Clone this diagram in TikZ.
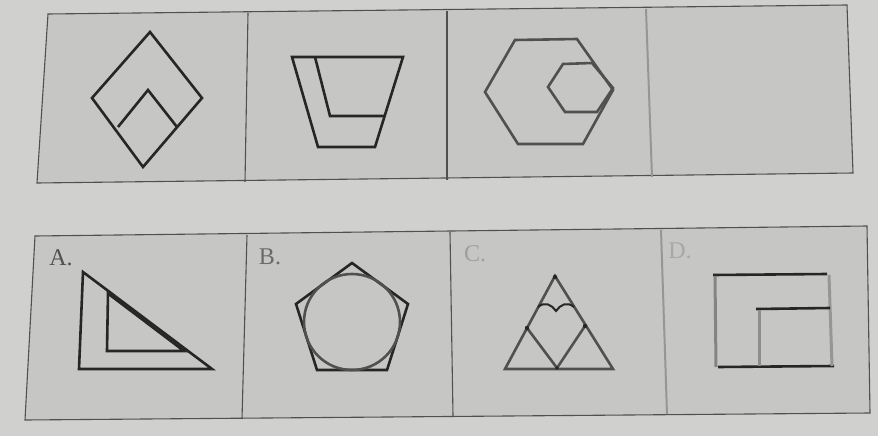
\documentclass[tikz,border=0pt]{standalone}
\usepackage{fontspec}
\setmainfont{Liberation Serif}
\definecolor{bgc}{HTML}{D0D0CE}
\definecolor{panelc}{HTML}{C6C6C4}
\definecolor{framec}{HTML}{505050}
\definecolor{inkc}{HTML}{262626}
\definecolor{softc}{HTML}{505050}
\begin{document}
\begin{tikzpicture}[x=1pt,y=-1pt,
  frame/.style={draw=framec,line width=1.1pt},
  ink/.style={draw=inkc,line width=2.6pt,line join=miter},
  soft/.style={draw=softc,line width=2.6pt,line join=miter},
  lab/.style={inner sep=0pt,font=\fontsize{24}{24}\selectfont}]
\useasboundingbox (0,0) rectangle (878,436);
\fill[bgc] (0,0) rectangle (878,436);
% top strip
\fill[panelc] (48,14) -- (847,5) -- (853,173) -- (37,183) -- cycle;
\draw[frame] (48,14) -- (847,5) -- (853,173) -- (37,183) -- cycle;
\draw[frame] (248,13) -- (245,182);
\draw[frame] (447,11) -- (447,180);
\draw[draw=framec!60,line width=2pt] (646,9) -- (652,177);
% bottom strip
\fill[panelc] (35,236) -- (867,226) -- (870,413) -- (25,420) -- cycle;
\draw[frame] (35,236) -- (867,226) -- (870,413) -- (25,420) -- cycle;
\draw[frame] (247,235) -- (242,419);
\draw[frame] (450,232) -- (453,416);
\draw[draw=framec!60,line width=2pt] (661,230) -- (667,414);

% panel 1: diamond
\draw[ink] (150,32) -- (202,98) -- (143,167) -- (92,98) -- cycle;
\draw[ink] (118,127) -- (148,90) -- (177,127);
% panel 2: trapezoid
\draw[ink] (292,57) -- (403,57) -- (375,147) -- (318,147) -- cycle;
\draw[ink] (315,57) -- (330,116) -- (385,116);
% panel 3: hexagons
\draw[soft] (515,40) -- (577,39) -- (613,90) -- (583,144) -- (518,144) -- (485,92) -- cycle;
\draw[soft] (563,64) -- (592,63) -- (613,88) -- (597,112) -- (565,112) -- (548,87) -- cycle;

% A
\node[lab,text=softc] (la) at (61,258) {A.};
\draw[ink] (83,272) -- (212,369) -- (79,369) -- cycle;
\draw[ink] (108,293.5) -- (184,351) -- (107,351) -- cycle;
% B
\node[lab,text=softc!85] (lb) at (270,257) {B.};
\draw[ink] (352,263) -- (408,304) -- (387,370) -- (317,370) -- (296,304) -- cycle;
\draw[soft] (352,322) circle (48);
% C
\node[lab,text=softc!55] (lc) at (475,254) {C.};
\draw[soft] (555,276) -- (613,369) -- (505,369) -- cycle;
\draw[soft] (527,328) -- (557,368) -- (585,326);
\draw[draw=inkc,line width=2pt] (538,307) .. controls (545,301) and (552,305) .. (556,311) .. controls (560,305) and (567,301) .. (574,307);
\fill[inkc] (555,277) circle (2.2) (527,328) circle (2.2) (585,326) circle (2.2) (557,368) circle (1.8);
% D
\node[lab,text=softc!50] (ld) at (680,251) {D.};
\draw[ink] (713,275) -- (827,274);
\draw[soft,draw=softc!70,line width=3pt] (715,276) -- (716,367);
\draw[ink] (718,367) -- (834,366);
\draw[soft,draw=softc!60,line width=3pt] (829,275) -- (832,366);
\draw[ink] (756,309) -- (830,308);
\draw[soft,draw=softc!65,line width=3pt] (759,310) -- (759,366);
\end{tikzpicture}
\end{document}
